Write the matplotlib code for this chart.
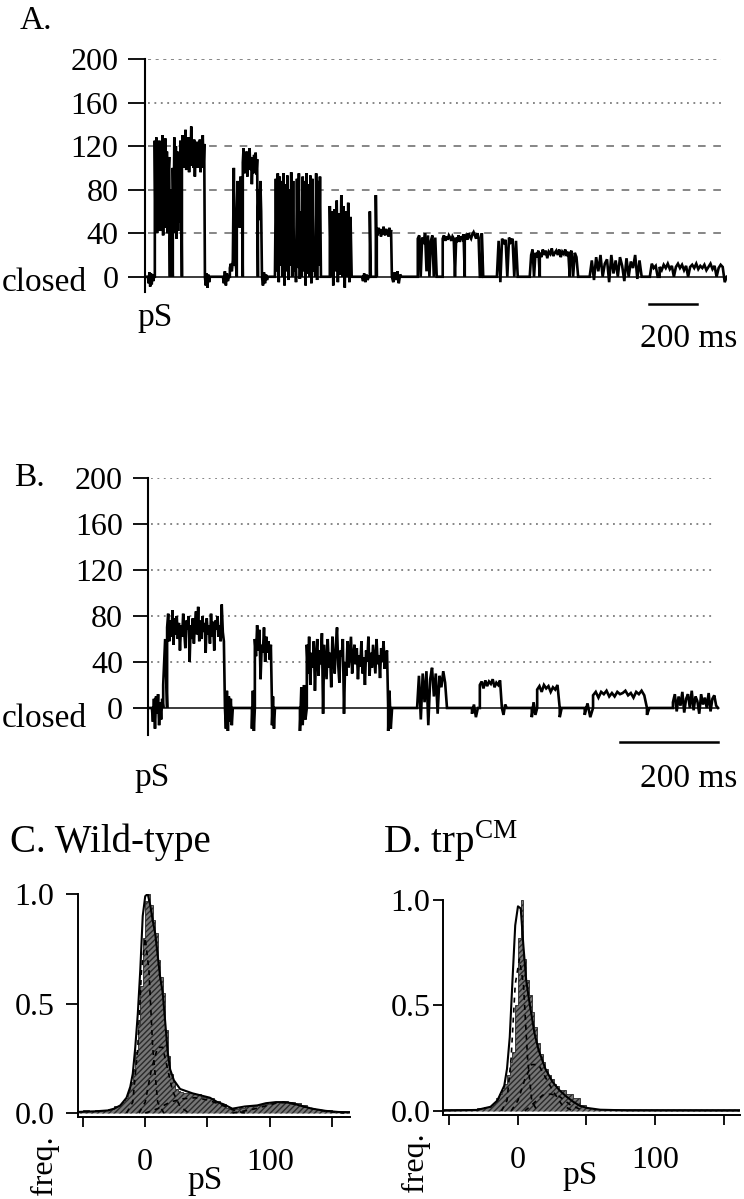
import numpy as np
import matplotlib
matplotlib.use('Agg')
import matplotlib.pyplot as plt

plt.rcParams['font.family'] = ['Liberation Serif', 'DejaVu Serif']
plt.rcParams['mathtext.fontset'] = 'custom'
plt.rcParams['mathtext.rm'] = 'Liberation Serif'

W, H = 744, 1199

# ---------------------------------------------------------------------------
# Data: single-channel traces (time ms, conductance pS), one tuple per burst
# ---------------------------------------------------------------------------
A_SEGMENTS = [
    (4, 33, [0, -6, 4, -9, 3, -7, 2, -4, 0]),
    (33, 96, [125, 42, 128, 40, 118, 60, 125, 42, 118, 50, 130, 38, 122, 45, 127, 55, 115, 40, 95, 110]),
    (96, 108, [32, 80, 36]),
    (108, 146, [100, 40, 128, 45, 120, 35, 115, 42, 110, 50, 125, 105]),
    (146, 242, [108, 130, 100, 125, 112, 135, 98, 120, 105, 128, 96, 118, 110, 138, 102, 122, 100, 126, 92, 115,
                108, 124, 100, 118, 104, 126, 96, 120, 110, 130, 100, 122]),
    (242, 263, [0, -8, 3, -10, 2, -5]),
    (317, 346, [0, -6, 5, -8, 3, -4, 0]),
    (346, 375, [8, 12, 5, 15, 100, 10, 12]),
    (375, 400, [60, 88, 50, 82, 45, 92, 58, 75]),
    (400, 463, [105, 118, 95, 112, 100, 115, 92, 108, 102, 118, 98, 110, 85, 104, 95, 112, 100, 114, 94, 108]),
    (463, 480, [55, 80, 52, 88, 60]),
    (480, 505, [0, -8, 4, -6, 2, -3]),
    (534, 730, [0, 90, 5, 95, -5, 92, 10, 88, 0, 95, -8, 85, 5, 93, -3, 80, 10, 96, 0, 88, 5, 30, -5, 90, 8,
                95, -2, 60, 0, 92, 5, 88, -8, 95, 3, 85, 0, 93, -6, 90, 5, 30, 0, 95, -3, 88, 10, 92, 0]),
    (763, 859, [65, 0, 60, -8, 62, 5, 70, -5, 58, 2, 75, 0, 65, -10, 60, 0, 68, -5, 55, 0]),
    (897, 930, [0, -4, 3, -5, 2, -3, 0]),
    (930, 938, [60, 0]),
    (955, 959, [75]),
    (959, 1022, [42, 38, 45, 40, 44, 37, 43, 39, 46, 41, 38, 44, 40, 42, 37, 45, 39, 43]),
    (1022, 1068, [0, -5, 4, -3, 5, -6, 2, 0]),
    (1130, 1209, [35, 38, 0, 36, 30, 40, 5, 38, 0, 33, 38, 0, 36]),
    (1234, 1326, [35, 38, 33, 37, 34, 38, 36, 33, 37, 35, 0, 36, 34, 38, 32, 37, 35, 39]),
    (1326, 1389, [36, 38, 34, 40, 37, 35, 39, 41, 38, 35, 40, 36]),
    (1397, 1409, [40, 0]),
    (1460, 1547, [0, 33, -5, 35, 30, 34, 0, 36, 32, 35, 0, 33]),
    (1597, 1639, [0, 20, 25, 0, 22, 18, 24]),
    (1639, 1764, [22, 18, 25, 20, 24, 17, 23, 21, 26, 19, 22, 24, 20, 25, 18, 23, 21, 25, 19, 23]),
    (1764, 1806, [20, 24, 0, 22, 18, 0]),
    (1847, 2064, [0, 15, -3, 18, 5, 20, 0, 12, 16, -5, 20, 3, 15, 0, 18, 10, -4, 17, 0, 14, 8, 20, -2, 15]),
    (2098, 2139, [0, 12, 8, 10, 0]),
    (2139, 2419, [9, 6, 11, 8, 12, 7, 10, 0, 9, 12, 8, 11, 6, 10, 0, 9, 11, 8, 12, 7, 10, 8, 11, 6, 9, 12,
                  7, 10, 0, 8, 11, 9, -5]),
]

B_SEGMENTS = [
    (4, 27, [0, -12, 8, -18, 10, -5, 12, -15, 5, -10, 8]),
    (27, 35, [20, 60]),
    (35, 153, [70, 82, 58, 76, 62, 85, 55, 78, 64, 80, 60, 74, 50, 72, 62, 82, 66, 52, 76, 68, 80, 40, 72, 60,
               78, 56, 74, 84, 64, 88, 58, 76, 60, 80, 66, 74, 48, 78, 64, 72, 56, 82, 62, 75, 50, 76, 68, 80,
               62, 72, 58, 90, 66, 58]),
    (153, 169, [0, -18, 15, -20, 10, -12, 8, -15]),
    (208, 214, [-18, 15, -20]),
    (214, 249, [60, 45, 72, 50, 68, 25, 55, 48, 70, 40, 62, 48, 58, 42, 55]),
    (249, 255, [-15, 10, -18]),
    (306, 320, [-20, 18, -15, 20, -10]),
    (320, 486, [55, 30, 62, 20, 48, 35, 58, 15, 45, 60, 28, 50, 38, 65, -5, 55, 40, 25, 60, 35, 48, 18, 62, 42,
                30, 55, 70, 38, 22, 50, 45, 60, -5, 40, 28, 58, 35, 48, 62, 30, 45, 55, 38, 52, 25, 46, 36, 58,
                30, 44, 20, 50, 40, 62, 28, 48, 35, 55, 42, 30, 60, 38, 46, 26, 52, 40, 58, 34, 45, 50]),
    (486, 494, [-20, 15, -18]),
    (545, 606, [0, 28, -10, 30, 5, 32, -15, 25, 35, 10, 30, -5, 28, 18, 32, 22]),
    (657, 669, [-5, 3, -8]),
    (673, 718, [20, 23, 17, 24, 19, 23, 21, 25, 18, 22, 20, 24]),
    (718, 728, [0, -6, 3]),
    (779, 790, [-8, 5, -6]),
    (790, 836, [16, 19, 14, 20, 17, 19, 14, 18, 16, 20]),
    (836, 840, [-8]),
    (887, 904, [-6, 4, -8]),
    (904, 1014, [11, 14, 9, 14, 12, 15, 10, 13, 10, 14, 12, 13, 15, 11, 13, 9, 14, 12, 15, 11]),
    (1014, 1024, [-6, 0]),
    (1067, 1159, [5, 12, -3, 10, 2, 14, -4, 8, 12, 0, 15, -2, 10, 6, -5, 12, 3, 9, 0, 13, -3, 8, 11, 2]),
]

TRACE_TICKS = [0, 40, 80, 120, 160, 200]
TRACE_TICKLABELS = ['0', '40', '80', '120', '160', '200']

# ---------------------------------------------------------------------------
# Data: amplitude histograms (bin edges in pS, normalised frequency)
# ---------------------------------------------------------------------------
HIST_EDGES = list(range(-55, -20, 5)) + list(range(-20, 30, 2)) + list(range(30, 170, 5))

C_FREQ = [0.01, 0.012, 0.01, 0.015, 0.015, 0.02, 0.03,
          0.04, 0.05, 0.07, 0.1, 0.14, 0.2, 0.28, 0.4, 0.58, 0.8, 0.97, 1.0, 0.95, 0.88, 0.82, 0.7, 0.62,
          0.55, 0.38, 0.26, 0.18, 0.14, 0.11, 0.1, 0.095,
          0.09, 0.09, 0.085, 0.075, 0.07, 0.055, 0.04, 0.025, 0.02, 0.025, 0.03, 0.03, 0.035, 0.04, 0.045,
          0.05, 0.055, 0.05, 0.045, 0.035, 0.025, 0.02, 0.015, 0.012, 0.01, 0.01, 0.01]
D_FREQ = [0.008, 0.01, 0.008, 0.01, 0.01, 0.012, 0.02,
          0.03, 0.04, 0.06, 0.08, 0.1, 0.13, 0.17, 0.23, 0.28, 0.5, 0.82, 1.0, 0.72, 0.62, 0.55, 0.47, 0.4,
          0.32, 0.27, 0.23, 0.2, 0.17, 0.15, 0.13, 0.12,
          0.1, 0.08, 0.06, 0.03, 0.015, 0.01, 0.01, 0.008, 0.008, 0.008, 0.008, 0.008, 0.008, 0.008, 0.008,
          0.008, 0.008, 0.008, 0.008, 0.008, 0.008, 0.008, 0.008, 0.008, 0.008, 0.008, 0.008]

C_FIT_X = [-55, -40, -30, -25, -20, -15, -12, -10, -8, -6, -4, -2, 0, 2, 4, 6, 8, 10, 12, 14, 16, 18, 20, 23,
           28, 33, 38, 45, 52, 58, 63, 70, 80, 90, 97, 105, 111, 118, 124, 134, 145, 155, 165]
C_FIT_Y = [0.005, 0.008, 0.012, 0.02, 0.035, 0.07, 0.12, 0.18, 0.3, 0.45, 0.65, 0.9, 0.99, 1.0, 0.95, 0.88,
           0.82, 0.72, 0.62, 0.55, 0.42, 0.28, 0.2, 0.15, 0.11, 0.1, 0.09, 0.08, 0.07, 0.05, 0.04, 0.02, 0.03,
           0.035, 0.045, 0.05, 0.05, 0.045, 0.035, 0.02, 0.01, 0.005, 0.003]
C_COMPONENTS = [
    ([-15, -10, -6, -3, 0, 3, 6, 10, 15], [0.0, 0.05, 0.3, 0.65, 0.8, 0.65, 0.3, 0.05, 0.0]),
    ([-5, 0, 5, 10, 14, 18, 22, 28, 35], [0.0, 0.05, 0.2, 0.3, 0.3, 0.2, 0.1, 0.03, 0.0]),
    ([0, 10, 20, 30, 40, 50, 60, 70, 80], [0.0, 0.02, 0.05, 0.065, 0.07, 0.06, 0.04, 0.015, 0.0]),
    ([70, 85, 95, 105, 112, 120, 130, 145, 160], [0.0, 0.015, 0.03, 0.045, 0.048, 0.04, 0.025, 0.008, 0.0]),
]

D_FIT_X = [-55, -30, -20, -15, -10, -8, -6, -4, -2, 0, 2, 4, 6, 8, 10, 12, 15, 20, 25, 30, 35, 40, 45, 50,
           60, 80, 162]
D_FIT_Y = [0.002, 0.005, 0.02, 0.05, 0.12, 0.2, 0.35, 0.62, 0.88, 0.97, 0.96, 0.78, 0.62, 0.53, 0.45, 0.37,
           0.29, 0.2, 0.14, 0.1, 0.07, 0.045, 0.025, 0.015, 0.006, 0.003, 0.002]
D_COMPONENTS = [
    ([-12, -8, -5, -2, 1, 4, 7, 10, 14], [0.0, 0.05, 0.25, 0.6, 0.72, 0.6, 0.25, 0.05, 0.0]),
    ([-5, 0, 5, 10, 15, 20, 26, 32, 40], [0.0, 0.05, 0.15, 0.22, 0.22, 0.16, 0.09, 0.03, 0.0]),
    ([5, 12, 18, 24, 30, 38, 48], [0.0, 0.04, 0.075, 0.08, 0.07, 0.03, 0.0]),
]

HIST_XTICKS = [-50, 0, 50, 100, 150]
HIST_XTICKLABELS = ['', '0', '', '100', '']
HIST_YTICKS = [0.0, 0.5, 1.0]
HIST_YTICKLABELS = ['0.0', '0.5', '1.0']


def box(left, top, right, bottom):
    """Axes rectangle from pixel edges of the reference image."""
    return [left / W, 1 - bottom / H, (right - left) / W, (bottom - top) / H]


def ftext(fig, x, y, s, **kw):
    fig.text(x / W, 1 - y / H, s, **kw)


def build_trace(segments):
    t, y = [0.0], [0.0]
    for t0, t1, vals in segments:
        ts = np.linspace(t0, t1, len(vals) + 1)
        t.append(t0)
        y.append(0)
        t.extend(ts[:-1])
        y.extend(vals)
        t.append(t1)
        y.append(0)
    return np.array(t), np.array(y)


def draw_trace(ax, segments, xlim, ylim, grid_styles, bar, ticklen):
    t, y = build_trace(segments)
    for level, ls in zip(TRACE_TICKS[1:], grid_styles):
        ax.axhline(level, xmin=0.005, xmax=0.99, color='0.4', lw=1.1, ls=ls, zorder=1)
    ax.plot([0, t[-1]], [0, 0], color='0.1', lw=1.2, zorder=2)
    ax.plot(t, y, color='black', lw=1.9, zorder=3, solid_joinstyle='miter')
    ax.set_xlim(*xlim)
    ax.set_ylim(*ylim)
    for side in ['top', 'right', 'bottom']:
        ax.spines[side].set_visible(False)
    ax.spines['left'].set_linewidth(1.5)
    ax.spines['left'].set_bounds(ylim[0], 200)
    ax.set_xticks([])
    ax.set_yticks(TRACE_TICKS)
    ax.set_yticklabels(TRACE_TICKLABELS)
    ax.tick_params(axis='y', direction='out', length=ticklen, width=1.3, pad=7, labelsize=23)
    # 200 ms scale bar
    ax.plot([bar[0], bar[0] + 200], [bar[1], bar[1]], color='black', lw=1.8, clip_on=False)


def draw_hist(ax, freq, fit_x, fit_y, comps, xlim, ylim, ylen, ypad):
    ax.stairs(freq, HIST_EDGES, fill=True, facecolor='#767676', edgecolor='#2a2a2a',
              hatch='//////', lw=0.6, zorder=2)
    ax.plot(fit_x, fit_y, color='black', lw=1.5, zorder=4)
    for cx, cy in comps:
        ax.plot(cx, cy, color='black', lw=1.2, ls=(0, (3, 3)), zorder=3)
    ax.set_xlim(*xlim)
    ax.set_ylim(*ylim)
    for side in ['top', 'right']:
        ax.spines[side].set_visible(False)
    ax.spines['left'].set_linewidth(1.4)
    ax.spines['bottom'].set_linewidth(1.4)
    ax.spines['left'].set_bounds(ylim[0], 1.0)
    ax.set_xticks(HIST_XTICKS)
    ax.set_xticklabels(HIST_XTICKLABELS)
    ax.set_yticks(HIST_YTICKS)
    ax.set_yticklabels(HIST_YTICKLABELS)
    ax.tick_params(axis='x', direction='out', length=7, width=1.3, pad=15, labelsize=23)
    ax.tick_params(axis='y', direction='out', length=ylen, width=1.3, pad=ypad, labelsize=23)


fig = plt.figure(figsize=(W / 100, H / 100), dpi=100)

# --- Panel A ---
axA = fig.add_axes(box(145, 59, 727, 292))
draw_trace(axA, A_SEGMENTS, (-8, 2420), (-14, 200),
           [(0, (5, 5)), (0, (5, 5)), (0, (5, 5)), (0, (1.2, 3)), (0, (2, 3))],
           (2093, -25), 12)
ftext(fig, 20, 29, 'A.', fontsize=24)
ftext(fig, 2, 291, 'closed', fontsize=24)
ftext(fig, 155, 326, 'pS', fontsize=24, ha='center')
ftext(fig, 640, 347, '200 ms', fontsize=24)

# --- Panel B ---
axB = fig.add_axes(box(148, 478, 720, 735))
dot = (0, (1.2, 3))
draw_trace(axB, B_SEGMENTS, (-4, 1163), (-23.5, 200), [dot] * 5, (959, -30), 11)
ftext(fig, 14, 486, 'B.', fontsize=24)
ftext(fig, 2, 727, 'closed', fontsize=24)
ftext(fig, 152, 786, 'pS', fontsize=24, ha='center')
ftext(fig, 640, 787, '200 ms', fontsize=24)

# --- Panel C ---
axC = fig.add_axes(box(78, 894, 350, 1117))
draw_hist(axC, C_FREQ, C_FIT_X, C_FIT_Y, C_COMPONENTS, (-54, 164.5), (-0.018, 1.0), 9, 8)
ftext(fig, 10, 852, 'C. Wild-type', fontsize=28)
ftext(fig, 44, 1165, 'freq.', fontsize=23, rotation=90, ha='center', va='center')
ftext(fig, 205, 1189, 'pS', fontsize=24, ha='center')

# --- Panel D ---
axD = fig.add_axes(box(443, 900, 740, 1115))
draw_hist(axD, D_FREQ, D_FIT_X, D_FIT_Y, D_COMPONENTS, (-54.7, 162), (-0.019, 1.0), 7, 2)
ftext(fig, 383, 853, r'D. trp$^{\mathregular{CM}}$', fontsize=28)
ftext(fig, 415, 1162, 'freq.', fontsize=23, rotation=90, ha='center', va='center')
ftext(fig, 580, 1184, 'pS', fontsize=24, ha='center')

fig.savefig('out.png', dpi=100)
